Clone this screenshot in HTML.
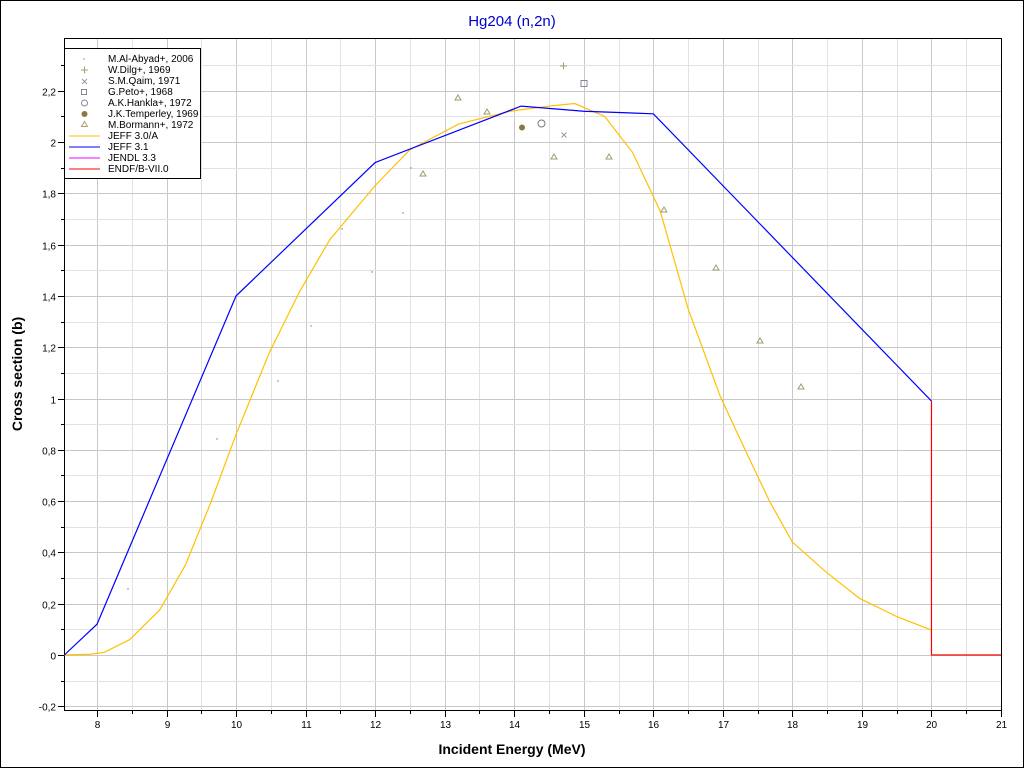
<!DOCTYPE html><html><head><style>body{margin:0;background:#fff}svg{display:block;font-family:"Liberation Sans",sans-serif}</style></head><body>
<svg width="1024" height="768" xmlns="http://www.w3.org/2000/svg">
<rect x="0.5" y="0.5" width="1023" height="767" fill="#fff" stroke="#000"/>
<text x="512" y="26" text-anchor="middle" font-size="15" fill="#0000cc">Hg204 (n,2n)</text>
<g id="grid"></g>
<rect x="64.5" y="38.5" width="937" height="672" fill="none" stroke="#000"/>
<g id="ticks" stroke="#000"></g>
<g id="lab" font-size="10" fill="#000"></g>
<text x="512" y="754" text-anchor="middle" font-size="14" font-weight="bold">Incident Energy (MeV)</text>
<text transform="translate(22,374) rotate(-90)" text-anchor="middle" font-size="14" font-weight="bold">Cross section (b)</text>
<g id="curves" fill="none" stroke-width="1.2"></g>
<g id="pts"></g>
<rect x="64.5" y="48.5" width="136" height="130" fill="#fff" stroke="#000"/>
<g font-size="10">
<circle cx="84" cy="59" r="0.7" fill="#888"/><text x="108" y="62">M.Al-Abyad+, 2006</text>
<path d="M81 70h7M84.5 66.5v7" stroke="#a0a070"/><text x="108" y="73">W.Dilg+, 1969</text>
<path d="M82 79l5 5M87 79l-5 5" stroke="#999"/><text x="108" y="84">S.M.Qaim, 1971</text>
<rect x="81.5" y="89.5" width="5" height="5" fill="none" stroke="#889"/><text x="108" y="95">G.Peto+, 1968</text>
<circle cx="84.5" cy="103" r="3" fill="none" stroke="#889"/><text x="108" y="106">A.K.Hankla+, 1972</text>
<circle cx="84.5" cy="114" r="3" fill="#8a7a40"/><text x="108" y="117">J.K.Temperley, 1969</text>
<path d="M84.5 121.5l3 5h-6z" fill="none" stroke="#b0a070"/><text x="108" y="128">M.Bormann+, 1972</text>
<path d="M69 136h31" stroke="#ffc000"/><text x="108" y="139">JEFF 3.0/A</text>
<path d="M69 147h31" stroke="#0000ff"/><text x="108" y="150">JEFF 3.1</text>
<path d="M69 158h31" stroke="#ff00ff"/><text x="108" y="161">JENDL 3.3</text>
<path d="M69 169h31" stroke="#ff0000"/><text x="108" y="172">ENDF/B-VII.0</text>
</g>
</svg>
<script>
const X=e=>97+(e-8)*69.54, Y=v=>655-v*256.5, ns="http://www.w3.org/2000/svg";
function el(p,t,a,txt){const e=document.createElementNS(ns,t);for(const k in a)e.setAttribute(k,a[k]);if(txt)e.textContent=txt;document.getElementById(p).appendChild(e);return e;}
for(let e=7.6;e<21;e+=0.1){const x=Math.round(X(e))+.5;const maj=Math.abs(e-Math.round(e))<.01,half=Math.abs(e*2-Math.round(e*2))<.01;if(half)el("grid","line",{x1:x,x2:x,y1:39,y2:710,stroke:maj?"#c8c8c8":"#e2e2e2"});}
for(let i=-2;i<=23;i++){const y=Math.round(Y(i/10))+.5;el("grid","line",{x1:65,x2:1001,y1:y,y2:y,stroke:i%2==0?"#c8c8c8":"#e2e2e2"});el("ticks","line",{x1:i%2==0?58:61,x2:64,y1:y,y2:y});if(i%2==0)el("lab","text",{x:56,y:y+4,"text-anchor":"end"},(i/10).toString().replace(".",","));}
for(let e=8;e<=21;e+=0.5){const x=Math.round(X(e))+.5;const maj=e%1==0;el("ticks","line",{x1:x,x2:x,y1:711,y2:maj?717:714});if(maj)el("lab","text",{x:x,y:728,"text-anchor":"middle"},e);}
const pl=(pts,c)=>el("curves","polyline",{points:pts.map(p=>X(p[0])+","+Y(p[1])).join(" "),stroke:c});
pl([[7.53,0],[7.9,0.003],[8.1,0.01],[8.47,0.06],[8.9,0.175],[9.27,0.35],[9.63,0.59],[10,0.86],[10.48,1.18],[10.92,1.42],[11.35,1.62],[12,1.83],[12.5,1.97],[13.2,2.07],[13.94,2.12],[14.5,2.14],[14.87,2.15],[15.3,2.1],[15.7,1.96],[16.1,1.73],[16.5,1.35],[16.96,1.01],[17.25,0.84],[17.67,0.6],[18,0.44],[18.5,0.32],[18.97,0.22],[19.5,0.15],[20,0.097]],"#ffc000");
pl([[7.53,0],[8,0.12],[10,1.4],[12,1.92],[14.1,2.14],[15,2.12],[16,2.11],[20,0.99]],"#0000ff");
pl([[20,0.99],[20,0],[21,0]],"#ff0000");
[[128,589],[217,439],[278,381],[311,326],[342,229],[372,272],[403,213],[411,168]].forEach(p=>el("pts","circle",{cx:p[0],cy:p[1],r:0.7,fill:"#777"}));
[[423,174],[458,98],[487,112],[554,157],[609,157],[664,210],[716,268],[760,341],[801,387]].forEach(p=>el("pts","path",{d:`M${p[0]} ${p[1]-3}l3 5h-6z`,fill:"none",stroke:"#a09a70"}));
el("pts","path",{d:"M560 66h7M563.5 62.5v7",stroke:"#a0a070"});
el("pts","path",{d:"M561.5 132.5l5 5M566.5 132.5l-5 5",stroke:"#999"});
el("pts","rect",{x:581,y:80.5,width:6,height:6,fill:"none",stroke:"#889"});
el("pts","circle",{cx:541.5,cy:123.5,r:3.5,fill:"none",stroke:"#778"});
el("pts","circle",{cx:522,cy:127.5,r:3,fill:"#8a7a40"});
</script>
</body></html>
